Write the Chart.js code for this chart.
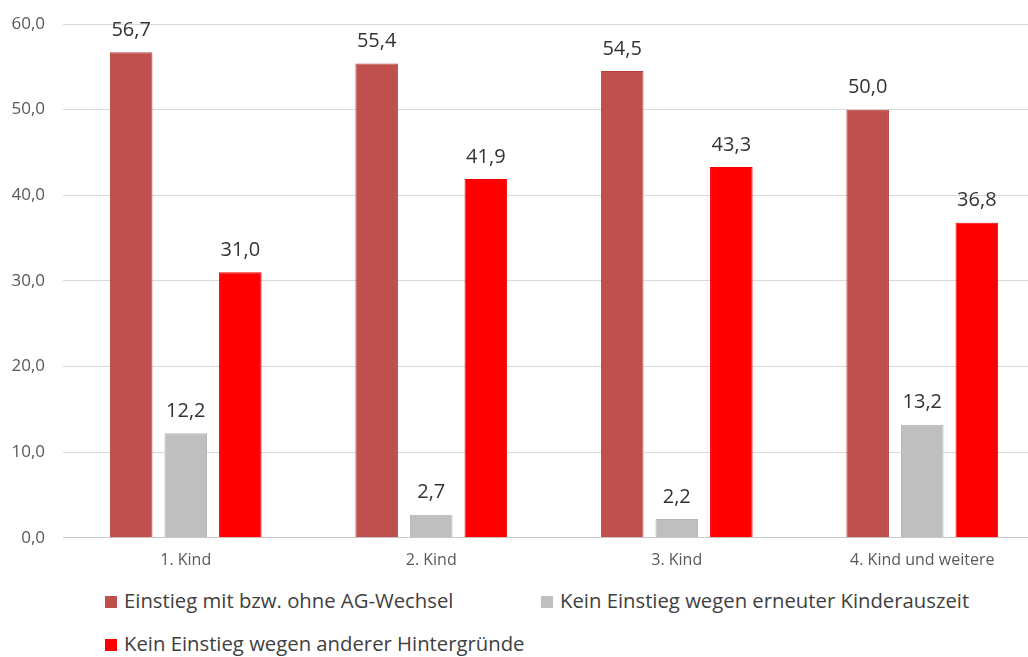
<!DOCTYPE html>
<html>
<head>
<meta charset="utf-8">
<script src="https://cdn.jsdelivr.net/npm/chart.js@4/dist/chart.umd.min.js"></script>
<style>
  html, body { margin: 0; padding: 0; background: #fff; overflow: hidden; width: 1028px; height: 657px; }
  #wrap { position: absolute; left: 0; top: 0; width: 1045px; height: 584px; }
  .leg { position: absolute; font-family: "Open Sans", sans-serif; font-size: 20.3px; color: #404040; white-space: nowrap; line-height: 24px; }
  .sw { display: inline-block; width: 12px; height: 12px; margin-right: 7px; vertical-align: 0px; }
</style>
</head>
<body>
<div id="wrap"><canvas id="c" width="1045" height="584"></canvas></div>
<div class="leg" style="left:105px; top:588px;"><span class="sw" id="sw0"></span><span id="l0"></span></div>
<div class="leg" style="left:541px; top:588px;"><span class="sw" id="sw1"></span><span id="l1"></span></div>
<div class="leg" style="left:105px; top:631px;"><span class="sw" id="sw2"></span><span id="l2"></span></div>
<script>
const categories = ["1. Kind", "2. Kind", "3. Kind", "4. Kind und weitere"];
const seriesNames = ["Einstieg mit bzw. ohne AG-Wechsel", "Kein Einstieg wegen erneuter Kinderauszeit", "Kein Einstieg wegen anderer Hintergründe"];
const einstieg = [56.7, 55.4, 54.5, 50.0];
const auszeit = [12.2, 2.7, 2.2, 13.2];
const andere = [31.0, 41.9, 43.3, 36.8];
const yTicks = [0, 10, 20, 30, 40, 50, 60];
const colors = ["#C0504D", "#BFBFBF", "#FF0000"];

const fmt = v => v.toFixed(1).replace('.', ',');

[0,1,2].forEach(i => {
  document.getElementById('sw' + i).style.background = colors[i];
  document.getElementById('l' + i).textContent = seriesNames[i];
});

const labelPlugin = {
  id: 'barLabels',
  afterDatasetsDraw(chart) {
    const ctx = chart.ctx;
    ctx.save();
    ctx.font = '20px "Open Sans", sans-serif';
    ctx.fillStyle = '#333333';
    ctx.textAlign = 'center';
    ctx.textBaseline = 'bottom';
    chart.data.datasets.forEach((ds, di) => {
      chart.getDatasetMeta(di).data.forEach((bar, i) => {
        ctx.fillText(fmt(ds.data[i]), bar.x, bar.y - 12);
      });
    });
    ctx.restore();
  }
};

new Chart(document.getElementById('c'), {
  type: 'bar',
  data: {
    labels: categories,
    datasets: [
      { label: seriesNames[0], data: einstieg, backgroundColor: colors[0], borderColor: '#B8403D', borderWidth: 1 },
      { label: seriesNames[1], data: auszeit, backgroundColor: colors[1], borderColor: '#B5B5B5', borderWidth: 1 },
      { label: seriesNames[2], data: andere, backgroundColor: colors[2], borderColor: '#F00000', borderWidth: 1 }
    ]
  },
  options: {
    responsive: false,
    animation: false,
    layout: { padding: { left: 12, right: 0, top: 24, bottom: 1 } },
    datasets: { bar: { categoryPercentage: 0.667, barPercentage: 0.78 } },
    plugins: { legend: { display: false }, tooltip: { enabled: false } },
    scales: {
      x: {
        grid: { display: false, drawTicks: false },
        border: { display: true, color: '#C8C8C8', width: 1 },
        ticks: { font: { family: '"Open Sans", sans-serif', size: 16 }, color: '#595959', padding: 13 }
      },
      y: {
        min: 0, max: 60,
        afterBuildTicks: axis => { axis.ticks = yTicks.map(v => ({ value: v })); },
        afterFit: axis => { axis.width = 51; axis.paddingTop = 0; axis.paddingBottom = 0; },
        grid: { color: '#D9D9D9', drawTicks: false, lineWidth: 1 },
        border: { display: false },
        ticks: { font: { family: '"Open Sans", sans-serif', size: 17 }, color: '#595959', padding: 18, callback: v => fmt(v) }
      }
    }
  },
  plugins: [labelPlugin]
});
</script>
</body>
</html>
